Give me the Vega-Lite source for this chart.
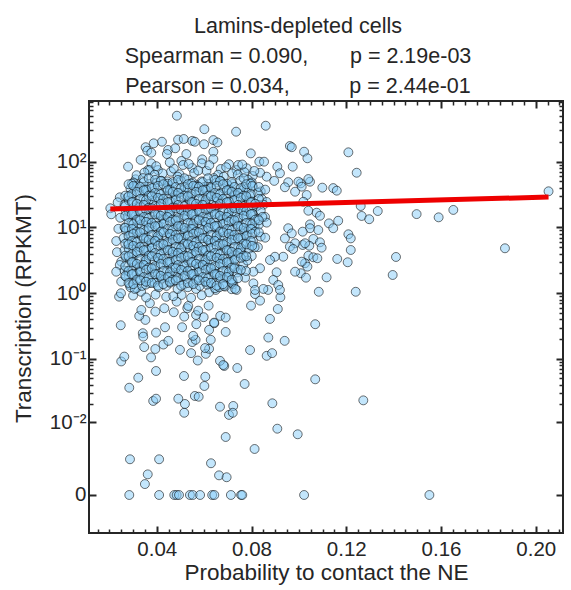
{
"$schema": "https://vega.github.io/schema/vega-lite/v6.json",
"width": 474, "height": 432,
"autosize": {"type": "none"},
"padding": {"left": 89, "top": 101, "right": 8, "bottom": 57},
"background": "white",
"config": {
 "font": "Liberation Sans",
 "view": {"stroke": "#262626", "strokeWidth": 2},
 "axis": {"domain": false, "grid": false, "ticks": true, "tickColor": "#262626", "labelColor": "#262626", "titleColor": "#262626", "labelFont": "Liberation Sans", "titleFont": "Liberation Sans", "labelFontSize": 20.5, "titleFontSize": 22.5, "titleFontWeight": "normal"}
},
"title": {"text": ["Lamins-depleted cells", "Spearman = 0.090,\u00a0\u00a0\u00a0\u00a0\u00a0\u00a0 p = 2.19e-03", "Pearson = 0.034,\u00a0\u00a0\u00a0\u00a0\u00a0\u00a0\u00a0\u00a0\u00a0 p = 2.44e-01"], "fontSize": 21.5, "fontWeight": "normal", "lineHeight": 30, "anchor": "middle", "dx": -28, "offset": 3, "color": "#262626", "font": "Liberation Sans"},
"datasets": {
"fit": [{"x":0.0204,"y":19.0},{"x":0.2054,"y":28.9}],
"genes": [
{"x":0.0284,"y":0},{"x":0.0410,"y":0},{"x":0.0474,"y":0},{"x":0.0484,"y":0},{"x":0.0494,"y":0},{"x":0.0540,"y":0},{"x":0.0552,"y":0},{"x":0.0583,"y":0},{"x":0.0634,"y":0},{"x":0.0643,"y":0},{"x":0.0713,"y":0},{"x":0.0756,"y":0},{"x":0.0761,"y":0},{"x":0.1022,"y":0},{"x":0.1551,"y":0},
{"x":0.0287,"y":0.00214},{"x":0.0410,"y":0.00214},{"x":0.0362,"y":0.00091},{"x":0.0350,"y":0.0004},{"x":0.0629,"y":0.00175},{"x":0.0663,"y":0.00085},{"x":0.0695,"y":0.00074},{"x":0.0691,"y":0.00568},{"x":0.0813,"y":0.00344},{"x":0.0909,"y":0.00788},{"x":0.0995,"y":0.00633},
{"x":0.0888,"y":0.0204},{"x":0.0667,"y":0.018},{"x":0.0723,"y":0.0185},{"x":0.0705,"y":0.0133},{"x":0.0721,"y":0.0144},{"x":0.0516,"y":0.0144},{"x":0.0519,"y":0.0199},{"x":0.0491,"y":0.0241},{"x":0.0385,"y":0.0222},{"x":0.0397,"y":0.0241},{"x":0.0561,"y":0.0266},{"x":0.0577,"y":0.0259},{"x":0.1272,"y":0.0227},
{"x":0.0284,"y":0.0358},{"x":0.0322,"y":0.0512},{"x":0.0397,"y":0.0649},{"x":0.0515,"y":0.0544},{"x":0.0605,"y":0.053},{"x":0.0601,"y":0.0381},{"x":0.0685,"y":0.0775},{"x":0.074,"y":0.0722},{"x":0.0771,"y":0.0409},{"x":0.0667,"y":0.093},{"x":0.0681,"y":0.0802},{"x":0.1069,"y":0.0483},
{"x":0.025,"y":0.091},{"x":0.0263,"y":0.108},{"x":0.0376,"y":0.105},{"x":0.0498,"y":0.137},{"x":0.0545,"y":0.122},{"x":0.0573,"y":0.094},{"x":0.0607,"y":0.119},{"x":0.0621,"y":0.142},{"x":0.0604,"y":0.146},{"x":0.0794,"y":0.136},{"x":0.0864,"y":0.111},{"x":0.0887,"y":0.122},
{"x":0.0347,"y":0.151},{"x":0.0394,"y":0.141},{"x":0.0428,"y":0.165},{"x":0.0449,"y":0.188},{"x":0.055,"y":0.18},{"x":0.0564,"y":0.195},{"x":0.0628,"y":0.195},
{"x":0.0248,"y":0.325},{"x":0.0341,"y":0.246},{"x":0.0343,"y":0.218},{"x":0.0397,"y":0.251},{"x":0.0435,"y":0.303},{"x":0.0507,"y":0.303},{"x":0.0554,"y":0.224},{"x":0.0567,"y":0.337},{"x":0.0621,"y":0.276},{"x":0.0643,"y":0.349},{"x":0.0691,"y":0.257},{"x":0.0871,"y":0.211},{"x":0.094,"y":0.188},{"x":0.1069,"y":0.337},
{"x":0.0878,"y":0.406},{"x":0.0911,"y":0.575},{"x":0.0922,"y":0.867},{"x":0.0798,"y":0.646},{"x":0.0836,"y":0.77},{"x":0.1084,"y":1.05},{"x":0.0668,"y":0.451},{"x":0.0691,"y":0.425},{"x":0.0642,"y":0.356},{"x":0.0619,"y":0.646},{"x":0.0598,"y":0.431},{"x":0.0566,"y":0.466},{"x":0.0516,"y":0.44},{"x":0.0472,"y":0.513},{"x":0.0432,"y":0.59},{"x":0.0352,"y":0.392},{"x":0.0326,"y":0.451},{"x":0.0335,"y":0.556},{"x":0.0394,"y":0.524},{"x":0.0371,"y":0.703},{"x":0.0529,"y":0.59},{"x":0.0575,"y":0.542},{"x":0.0533,"y":0.639},{"x":0.0505,"y":0.94},{"x":0.0484,"y":0.743},{"x":0.0241,"y":0.885},{"x":0.0249,"y":0.996},{"x":0.0334,"y":1.05},{"x":0.087,"y":1.12},{"x":0.0815,"y":0.97},{"x":0.0716,"y":1.15},{"x":0.0649,"y":1.12},{"x":0.0621,"y":1.03},
{"x":0.03,"y":0.92},{"x":0.0355,"y":0.86},{"x":0.0395,"y":0.95},{"x":0.044,"y":0.88},{"x":0.047,"y":0.9},{"x":0.0545,"y":0.85},{"x":0.059,"y":0.93},
{"x":0.1022,"y":141},{"x":0.1036,"y":112},{"x":0.1209,"y":138},{"x":0.1244,"y":67.6},{"x":0.1008,"y":46.7},{"x":0.1047,"y":49.4},{"x":0.1099,"y":40.1},{"x":0.1145,"y":39.5},{"x":0.116,"y":36.1},{"x":0.1033,"y":31.0},{"x":0.1019,"y":24.5},{"x":0.1261,"y":21.1},{"x":0.104,"y":17.9},{"x":0.1075,"y":16.7},{"x":0.1089,"y":15.0},{"x":0.1265,"y":14.9},{"x":0.1297,"y":13.3},{"x":0.1333,"y":17.7},{"x":0.1497,"y":15.9},{"x":0.159,"y":14.2},{"x":0.1652,"y":18.4},{"x":0.2054,"y":35.3},
{"x":0.1127,"y":11.5},{"x":0.1166,"y":12.6},{"x":0.1047,"y":11.1},{"x":0.1047,"y":9.7},{"x":0.1145,"y":9.7},{"x":0.1082,"y":9.1},{"x":0.1016,"y":8.6},{"x":0.1209,"y":7.85},{"x":0.1219,"y":6.8},{"x":0.1061,"y":6.66},{"x":0.1089,"y":5.93},{"x":0.1096,"y":4.91},{"x":0.1016,"y":5.4},{"x":0.1044,"y":5.26},{"x":0.1219,"y":4.53},{"x":0.187,"y":4.81},
{"x":0.104,"y":3.71},{"x":0.1061,"y":3.51},{"x":0.1078,"y":3.39},{"x":0.1162,"y":3.31},{"x":0.1206,"y":2.95},{"x":0.141,"y":3.55},{"x":0.1026,"y":2.85},{"x":0.1036,"y":2.53},{"x":0.1008,"y":2.01},{"x":0.103,"y":1.72},{"x":0.1117,"y":1.74},{"x":0.1396,"y":1.89},{"x":0.124,"y":1.05},
{"x":0.0485,"y":497},{"x":0.0422,"y":200},{"x":0.0387,"y":189},{"x":0.049,"y":215},{"x":0.0514,"y":220},{"x":0.055,"y":206},{"x":0.0353,"y":165},{"x":0.036,"y":146},{"x":0.0377,"y":136},{"x":0.0448,"y":150},{"x":0.0478,"y":159},{"x":0.0443,"y":130},{"x":0.0525,"y":130},{"x":0.0332,"y":106},{"x":0.0279,"y":83.5},{"x":0.0377,"y":94},{"x":0.0405,"y":74.3},{"x":0.0504,"y":102},{"x":0.0511,"y":88.6},{"x":0.0311,"y":53.7},{"x":0.0363,"y":74.3},{"x":0.0244,"y":28.6},
{"x":0.086,"y":350},{"x":0.0735,"y":284},{"x":0.0601,"y":310},{"x":0.06,"y":183},{"x":0.0639,"y":212},{"x":0.0656,"y":195},{"x":0.0639,"y":141},{"x":0.0639,"y":109},{"x":0.0561,"y":200},{"x":0.0962,"y":172},{"x":0.097,"y":165},{"x":0.0797,"y":133},{"x":0.0833,"y":99.5},{"x":0.0853,"y":99.5},{"x":0.0705,"y":91},{"x":0.0737,"y":74.3},{"x":0.078,"y":78.9},{"x":0.0744,"y":88.6},{"x":0.0909,"y":83.5},{"x":0.0974,"y":83.5},{"x":0.0864,"y":58.9},{"x":0.092,"y":66.4},{"x":0.0896,"y":50.8},{"x":0.0955,"y":48.5},{"x":0.0998,"y":49.4},{"x":0.0836,"y":67.6},{"x":0.0805,"y":60.3},{"x":0.0592,"y":108},{"x":0.059,"y":94},{"x":0.0941,"y":40.7},{"x":0.1012,"y":41.5},{"x":0.0984,"y":34.8},{"x":0.104,"y":54.2},
{"x":0.0204,"y":19.5},{"x":0.0208,"y":15.8},{"x":0.0246,"y":14.0},{"x":0.0229,"y":6.2},{"x":0.025,"y":3.01},{"x":0.0244,"y":2.68},{"x":0.0229,"y":2.12},{"x":0.025,"y":1.5},{"x":0.0286,"y":1.33},{"x":0.0314,"y":1.19},{"x":0.0235,"y":24},{"x":0.0238,"y":9.5},{"x":0.0232,"y":4.2},
{"x":0.0955,"y":9.7},{"x":0.097,"y":8.1},{"x":0.0941,"y":6.8},{"x":0.0984,"y":5.73},{"x":0.0962,"y":5.09},{"x":0.0976,"y":4.69},{"x":0.1026,"y":5.73},{"x":0.0934,"y":3.58},{"x":0.0899,"y":3.58},{"x":0.0878,"y":3.19},{"x":0.1012,"y":3.01},{"x":0.0984,"y":2.12},{"x":0.0906,"y":2.08},{"x":0.0892,"y":1.59},{"x":0.0913,"y":1.33},{"x":0.0836,"y":2.39},{"x":0.0808,"y":2.12},{"x":0.0773,"y":1.72},{"x":0.0808,"y":1.41},{"x":0.0815,"y":1.12},{"x":0.085,"y":1.16},{"x":0.092,"y":1.12},{"x":0.0723,"y":1.37},{"x":0.0646,"y":1.19},{"x":0.0688,"y":1.26},{"x":0.0737,"y":1.12},
{"x":0.037,"y":74},{"x":0.046,"y":70},{"x":0.055,"y":80},{"x":0.061,"y":72},{"x":0.067,"y":77},{"x":0.077,"y":69},
{"x":0.0315,"y":62},{"x":0.0348,"y":68},{"x":0.0398,"y":85},{"x":0.0425,"y":66},{"x":0.0472,"y":78},{"x":0.0496,"y":64},{"x":0.0535,"y":92},{"x":0.0558,"y":67},{"x":0.0622,"y":88},{"x":0.0659,"y":63},{"x":0.0693,"y":82},{"x":0.0718,"y":66},{"x":0.0761,"y":90},{"x":0.0812,"y":72},{"x":0.0455,"y":97},{"x":0.0575,"y":73},
{"x":0.0342,"y":56},{"x":0.0391,"y":63},{"x":0.0445,"y":50},{"x":0.0488,"y":59},{"x":0.0532,"y":53},{"x":0.059,"y":50},{"x":0.0641,"y":56},{"x":0.0683,"y":59},{"x":0.0742,"y":63},{"x":0.0785,"y":53},
{"x":0.0302,"y":48},{"x":0.032,"y":43.3},{"x":0.0352,"y":41},{"x":0.0369,"y":45.6},{"x":0.0401,"y":48},{"x":0.042,"y":51},{"x":0.0452,"y":43.3},{"x":0.0469,"y":45.6},{"x":0.0502,"y":51},{"x":0.0519,"y":41},{"x":0.0552,"y":48},{"x":0.057,"y":43.3},{"x":0.0601,"y":41},{"x":0.0619,"y":45.6},{"x":0.0653,"y":48},{"x":0.0669,"y":51},{"x":0.0702,"y":43.3},{"x":0.072,"y":45.6},{"x":0.0752,"y":51},{"x":0.0769,"y":41},{"x":0.0801,"y":48},
{"x":0.0289,"y":38.9},{"x":0.0307,"y":41.4},{"x":0.0338,"y":35.2},{"x":0.0354,"y":37},{"x":0.039,"y":41.4},{"x":0.0408,"y":33.3},{"x":0.0441,"y":38.9},{"x":0.0455,"y":35.2},{"x":0.0488,"y":33.3},{"x":0.0514,"y":37},{"x":0.0531,"y":38.9},{"x":0.0566,"y":41.4},{"x":0.0582,"y":35.2},{"x":0.0613,"y":37},{"x":0.063,"y":41.4},{"x":0.0664,"y":33.3},{"x":0.0683,"y":38.9},{"x":0.0716,"y":35.2},{"x":0.0731,"y":33.3},{"x":0.0765,"y":37},{"x":0.0782,"y":38.9},{"x":0.0806,"y":41.4},{"x":0.0839,"y":35.2},
{"x":0.0277,"y":28.4},{"x":0.0294,"y":29.9},{"x":0.0327,"y":33.5},{"x":0.0344,"y":26.9},{"x":0.0377,"y":31.4},{"x":0.0394,"y":28.4},{"x":0.0427,"y":26.9},{"x":0.0444,"y":29.9},{"x":0.0477,"y":31.4},{"x":0.0494,"y":33.5},{"x":0.0527,"y":28.4},{"x":0.0544,"y":29.9},{"x":0.0577,"y":33.5},{"x":0.0594,"y":26.9},{"x":0.0627,"y":31.4},{"x":0.0644,"y":28.4},{"x":0.0677,"y":26.9},{"x":0.0694,"y":29.9},{"x":0.0727,"y":31.4},{"x":0.0744,"y":33.5},{"x":0.0777,"y":28.4},{"x":0.0794,"y":29.9},{"x":0.0827,"y":33.5},{"x":0.0844,"y":26.9},
{"x":0.0264,"y":21.9},{"x":0.0282,"y":25.5},{"x":0.0315,"y":23.1},{"x":0.0331,"y":21.9},{"x":0.0363,"y":24.3},{"x":0.0381,"y":25.5},{"x":0.0414,"y":27.2},{"x":0.0432,"y":23.1},{"x":0.0464,"y":24.3},{"x":0.048,"y":27.2},{"x":0.0507,"y":21.9},{"x":0.054,"y":25.5},{"x":0.0556,"y":23.1},{"x":0.0589,"y":21.9},{"x":0.0606,"y":24.3},{"x":0.0639,"y":25.5},{"x":0.0656,"y":27.2},{"x":0.069,"y":23.1},{"x":0.0705,"y":24.3},{"x":0.0739,"y":27.2},{"x":0.0757,"y":21.9},{"x":0.0789,"y":25.5},{"x":0.0813,"y":23.1},{"x":0.0831,"y":21.9},{"x":0.0864,"y":24.3},
{"x":0.027,"y":17.7},{"x":0.0302,"y":19.7},{"x":0.032,"y":20.7},{"x":0.0352,"y":22.1},{"x":0.0369,"y":18.7},{"x":0.0401,"y":19.7},{"x":0.042,"y":22.1},{"x":0.0452,"y":17.7},{"x":0.0469,"y":20.7},{"x":0.0502,"y":18.7},{"x":0.0519,"y":17.7},{"x":0.0552,"y":19.7},{"x":0.057,"y":20.7},{"x":0.0601,"y":22.1},{"x":0.0619,"y":18.7},{"x":0.0653,"y":19.7},{"x":0.0669,"y":22.1},{"x":0.0702,"y":17.7},{"x":0.072,"y":20.7},{"x":0.0752,"y":18.7},{"x":0.0769,"y":17.7},{"x":0.0801,"y":19.7},{"x":0.082,"y":20.7},{"x":0.0851,"y":22.1},
{"x":0.0289,"y":15.2},{"x":0.0307,"y":16.0},{"x":0.0338,"y":17.9},{"x":0.0354,"y":14.4},{"x":0.039,"y":16.8},{"x":0.0408,"y":15.2},{"x":0.0441,"y":14.4},{"x":0.0455,"y":16.0},{"x":0.0488,"y":16.8},{"x":0.0514,"y":17.9},{"x":0.0531,"y":15.2},{"x":0.0566,"y":16.0},{"x":0.0582,"y":17.9},{"x":0.0613,"y":14.4},{"x":0.063,"y":16.8},{"x":0.0664,"y":15.2},{"x":0.0683,"y":14.4},{"x":0.0716,"y":16.0},{"x":0.0731,"y":16.8},{"x":0.0765,"y":17.9},{"x":0.0782,"y":15.2},{"x":0.0806,"y":16.0},{"x":0.0839,"y":17.9},{"x":0.0857,"y":14.4},
{"x":0.0277,"y":14.4},{"x":0.0294,"y":11.6},{"x":0.0327,"y":13.5},{"x":0.0344,"y":12.3},{"x":0.0377,"y":11.6},{"x":0.0394,"y":12.9},{"x":0.0427,"y":13.5},{"x":0.0444,"y":14.4},{"x":0.0477,"y":12.3},{"x":0.0494,"y":12.9},{"x":0.0527,"y":14.4},{"x":0.0544,"y":11.6},{"x":0.0577,"y":13.5},{"x":0.0594,"y":12.3},{"x":0.0627,"y":11.6},{"x":0.0644,"y":12.9},{"x":0.0677,"y":13.5},{"x":0.0694,"y":14.4},{"x":0.0727,"y":12.3},{"x":0.0744,"y":12.9},{"x":0.0777,"y":14.4},{"x":0.0794,"y":11.6},{"x":0.0827,"y":13.5},
{"x":0.0264,"y":10.0},{"x":0.0282,"y":9.45},{"x":0.0315,"y":10.5},{"x":0.0331,"y":11.0},{"x":0.0363,"y":11.8},{"x":0.0381,"y":10.0},{"x":0.0414,"y":10.5},{"x":0.0432,"y":11.8},{"x":0.0464,"y":9.45},{"x":0.048,"y":11.0},{"x":0.0507,"y":10.0},{"x":0.054,"y":9.45},{"x":0.0556,"y":10.5},{"x":0.0589,"y":11.0},{"x":0.0606,"y":11.8},{"x":0.0639,"y":10.0},{"x":0.0656,"y":10.5},{"x":0.069,"y":11.8},{"x":0.0705,"y":9.45},{"x":0.0739,"y":11.0},{"x":0.0757,"y":10.0},{"x":0.0789,"y":9.45},{"x":0.0813,"y":10.5},{"x":0.0831,"y":11.0},{"x":0.0864,"y":11.8},
{"x":0.027,"y":8.9},{"x":0.0302,"y":9.5},{"x":0.032,"y":8.1},{"x":0.0352,"y":8.5},{"x":0.0369,"y":9.5},{"x":0.0401,"y":7.65},{"x":0.042,"y":8.9},{"x":0.0452,"y":8.1},{"x":0.0469,"y":7.65},{"x":0.0502,"y":8.5},{"x":0.0519,"y":8.9},{"x":0.0552,"y":9.5},{"x":0.057,"y":8.1},{"x":0.0601,"y":8.5},{"x":0.0619,"y":9.5},{"x":0.0653,"y":7.65},{"x":0.0669,"y":8.9},{"x":0.0702,"y":8.1},{"x":0.072,"y":7.65},{"x":0.0752,"y":8.5},{"x":0.0769,"y":8.9},{"x":0.0801,"y":9.5},
{"x":0.026,"y":6.9},{"x":0.0289,"y":7.7},{"x":0.0307,"y":6.2},{"x":0.0338,"y":7.25},{"x":0.0354,"y":6.55},{"x":0.039,"y":6.2},{"x":0.0408,"y":6.9},{"x":0.0441,"y":7.25},{"x":0.0455,"y":7.7},{"x":0.0488,"y":6.55},{"x":0.0514,"y":6.9},{"x":0.0531,"y":7.7},{"x":0.0566,"y":6.2},{"x":0.0582,"y":7.25},{"x":0.0613,"y":6.55},{"x":0.063,"y":6.2},{"x":0.0664,"y":6.9},{"x":0.0683,"y":7.25},{"x":0.0716,"y":7.7},{"x":0.0731,"y":6.55},{"x":0.0765,"y":6.9},{"x":0.0782,"y":7.7},{"x":0.0806,"y":6.2},{"x":0.0839,"y":7.25},
{"x":0.0277,"y":5.9},{"x":0.0294,"y":5.3},{"x":0.0327,"y":5.0},{"x":0.0344,"y":5.6},{"x":0.0377,"y":5.9},{"x":0.0394,"y":6.3},{"x":0.0427,"y":5.3},{"x":0.0444,"y":5.6},{"x":0.0477,"y":6.3},{"x":0.0494,"y":5.0},{"x":0.0527,"y":5.9},{"x":0.0544,"y":5.3},{"x":0.0577,"y":5.0},{"x":0.0594,"y":5.6},{"x":0.0627,"y":5.9},{"x":0.0644,"y":6.3},{"x":0.0677,"y":5.3},{"x":0.0694,"y":5.6},{"x":0.0727,"y":6.3},{"x":0.0744,"y":5.0},{"x":0.0777,"y":5.9},{"x":0.0794,"y":5.3},{"x":0.0827,"y":5.0},
{"x":0.0264,"y":4.5},{"x":0.0282,"y":4.7},{"x":0.0315,"y":5.0},{"x":0.0331,"y":4.3},{"x":0.0363,"y":4.5},{"x":0.0381,"y":5.0},{"x":0.0414,"y":4.05},{"x":0.0432,"y":4.7},{"x":0.0464,"y":4.3},{"x":0.048,"y":4.05},{"x":0.0507,"y":4.5},{"x":0.054,"y":4.7},{"x":0.0556,"y":5.0},{"x":0.0589,"y":4.3},{"x":0.0606,"y":4.5},{"x":0.0639,"y":5.0},{"x":0.0656,"y":4.05},{"x":0.069,"y":4.7},{"x":0.0705,"y":4.3},{"x":0.0739,"y":4.05},{"x":0.0757,"y":4.5},{"x":0.0789,"y":4.7},{"x":0.0813,"y":5.0},
{"x":0.027,"y":3.5},{"x":0.0302,"y":3.67},{"x":0.032,"y":4.1},{"x":0.0352,"y":3.3},{"x":0.0369,"y":3.85},{"x":0.0401,"y":3.5},{"x":0.042,"y":3.3},{"x":0.0452,"y":3.67},{"x":0.0469,"y":3.85},{"x":0.0502,"y":4.1},{"x":0.0519,"y":3.5},{"x":0.0552,"y":3.67},{"x":0.057,"y":4.1},{"x":0.0601,"y":3.3},{"x":0.0619,"y":3.85},{"x":0.0653,"y":3.5},{"x":0.0669,"y":3.3},{"x":0.0702,"y":3.67},{"x":0.072,"y":3.85},{"x":0.0752,"y":4.1},{"x":0.0769,"y":3.5},{"x":0.0801,"y":3.67},
{"x":0.0289,"y":3.13},{"x":0.0307,"y":2.83},{"x":0.0338,"y":2.68},{"x":0.0354,"y":2.98},{"x":0.039,"y":3.13},{"x":0.0408,"y":3.34},{"x":0.0441,"y":2.83},{"x":0.0455,"y":2.98},{"x":0.0488,"y":3.34},{"x":0.0514,"y":2.68},{"x":0.0531,"y":3.13},{"x":0.0566,"y":2.83},{"x":0.0582,"y":2.68},{"x":0.0613,"y":2.98},{"x":0.063,"y":3.13},{"x":0.0664,"y":3.34},{"x":0.0683,"y":2.83},{"x":0.0716,"y":2.98},{"x":0.0731,"y":3.34},{"x":0.0765,"y":2.68},{"x":0.0782,"y":3.13},
{"x":0.0277,"y":2.17},{"x":0.0294,"y":2.41},{"x":0.0327,"y":2.53},{"x":0.0344,"y":2.7},{"x":0.0377,"y":2.29},{"x":0.0394,"y":2.41},{"x":0.0427,"y":2.7},{"x":0.0444,"y":2.17},{"x":0.0477,"y":2.53},{"x":0.0494,"y":2.29},{"x":0.0527,"y":2.17},{"x":0.0544,"y":2.41},{"x":0.0577,"y":2.53},{"x":0.0594,"y":2.7},{"x":0.0627,"y":2.29},{"x":0.0644,"y":2.41},{"x":0.0677,"y":2.7},{"x":0.0694,"y":2.17},{"x":0.0727,"y":2.53},{"x":0.0744,"y":2.29},{"x":0.0777,"y":2.17},
{"x":0.0264,"y":2.2},{"x":0.0282,"y":1.86},{"x":0.0315,"y":1.96},{"x":0.0331,"y":2.2},{"x":0.0363,"y":1.76},{"x":0.0381,"y":2.06},{"x":0.0414,"y":1.86},{"x":0.0432,"y":1.76},{"x":0.0464,"y":1.96},{"x":0.048,"y":2.06},{"x":0.0507,"y":2.2},{"x":0.054,"y":1.86},{"x":0.0556,"y":1.96},{"x":0.0589,"y":2.2},{"x":0.0606,"y":1.76},{"x":0.0639,"y":2.06},{"x":0.0656,"y":1.86},{"x":0.069,"y":1.76},{"x":0.0705,"y":1.96},{"x":0.0739,"y":2.06},
{"x":0.027,"y":1.78},{"x":0.0302,"y":1.43},{"x":0.032,"y":1.67},{"x":0.0352,"y":1.51},{"x":0.0369,"y":1.43},{"x":0.0401,"y":1.59},{"x":0.042,"y":1.67},{"x":0.0452,"y":1.78},{"x":0.0469,"y":1.51},{"x":0.0502,"y":1.59},{"x":0.0519,"y":1.78},{"x":0.0552,"y":1.43},{"x":0.057,"y":1.67},{"x":0.0601,"y":1.51},{"x":0.0619,"y":1.43},{"x":0.0653,"y":1.59},{"x":0.0669,"y":1.67},{"x":0.0702,"y":1.78},{"x":0.072,"y":1.51},
{"x":0.0289,"y":1.23},{"x":0.0307,"y":1.16},{"x":0.0338,"y":1.29},{"x":0.0354,"y":1.35},{"x":0.039,"y":1.44},{"x":0.0408,"y":1.23},{"x":0.0441,"y":1.29},{"x":0.0455,"y":1.44},{"x":0.0488,"y":1.16},{"x":0.0514,"y":1.35},{"x":0.0531,"y":1.23},{"x":0.0566,"y":1.16},{"x":0.0582,"y":1.29},{"x":0.0613,"y":1.35},{"x":0.063,"y":1.44},{"x":0.0664,"y":1.23},{"x":0.0683,"y":1.29},{"x":0.0716,"y":1.44},{"x":0.0731,"y":1.16},
{"x":0.0295,"y":46.0},{"x":0.0345,"y":48.6},{"x":0.0366,"y":55.7},{"x":0.0393,"y":52.6},{"x":0.0417,"y":50.6},{"x":0.0446,"y":46.0},{"x":0.0467,"y":48.6},{"x":0.049,"y":52.6},{"x":0.0517,"y":55.7},{"x":0.0547,"y":46.0},{"x":0.0594,"y":48.6},{"x":0.0617,"y":55.7},{"x":0.0645,"y":52.6},{"x":0.0667,"y":50.6},{"x":0.0696,"y":46.0},{"x":0.0716,"y":48.6},{"x":0.0767,"y":55.7},{"x":0.0797,"y":46.0},
{"x":0.0281,"y":45.2},{"x":0.0301,"y":42.7},{"x":0.033,"y":41.1},{"x":0.0355,"y":37.4},{"x":0.0379,"y":39.5},{"x":0.0405,"y":42.7},{"x":0.0428,"y":45.2},{"x":0.0456,"y":37.4},{"x":0.048,"y":41.1},{"x":0.0503,"y":39.5},{"x":0.0531,"y":45.2},{"x":0.0554,"y":42.7},{"x":0.0578,"y":41.1},{"x":0.0606,"y":37.4},{"x":0.0629,"y":39.5},{"x":0.0653,"y":42.7},{"x":0.068,"y":45.2},{"x":0.0704,"y":37.4},{"x":0.0728,"y":41.1},{"x":0.0755,"y":39.5},{"x":0.0778,"y":45.2},{"x":0.0803,"y":42.7},{"x":0.0831,"y":41.1},{"x":0.0858,"y":37.4},
{"x":0.0267,"y":30.3},{"x":0.0295,"y":32.0},{"x":0.0316,"y":34.6},{"x":0.0345,"y":36.6},{"x":0.0366,"y":30.3},{"x":0.0393,"y":33.3},{"x":0.0417,"y":32.0},{"x":0.0446,"y":36.6},{"x":0.0467,"y":34.6},{"x":0.049,"y":33.3},{"x":0.0517,"y":30.3},{"x":0.0547,"y":32.0},{"x":0.0566,"y":34.6},{"x":0.0594,"y":36.6},{"x":0.0617,"y":30.3},{"x":0.0645,"y":33.3},{"x":0.0667,"y":32.0},{"x":0.0696,"y":36.6},{"x":0.0716,"y":34.6},{"x":0.0743,"y":33.3},{"x":0.0767,"y":30.3},{"x":0.0797,"y":32.0},
{"x":0.0281,"y":29.7},{"x":0.0301,"y":24.6},{"x":0.033,"y":27.0},{"x":0.0355,"y":25.9},{"x":0.0379,"y":29.7},{"x":0.0405,"y":28.1},{"x":0.0428,"y":27.0},{"x":0.0456,"y":24.6},{"x":0.048,"y":25.9},{"x":0.0503,"y":28.1},{"x":0.0531,"y":29.7},{"x":0.0554,"y":24.6},{"x":0.0578,"y":27.0},{"x":0.0606,"y":25.9},{"x":0.0629,"y":29.7},{"x":0.0653,"y":28.1},{"x":0.068,"y":27.0},{"x":0.0704,"y":24.6},{"x":0.0728,"y":25.9},{"x":0.0755,"y":28.1},{"x":0.0778,"y":29.7},{"x":0.0803,"y":24.6},{"x":0.0831,"y":27.0},
{"x":0.0267,"y":21.0},{"x":0.0295,"y":24.1},{"x":0.0316,"y":22.8},{"x":0.0345,"y":21.9},{"x":0.0366,"y":19.9},{"x":0.0393,"y":21.0},{"x":0.0417,"y":22.8},{"x":0.0446,"y":24.1},{"x":0.0467,"y":19.9},{"x":0.049,"y":21.9},{"x":0.0517,"y":21.0},{"x":0.0547,"y":24.1},{"x":0.0566,"y":22.8},{"x":0.0594,"y":21.9},{"x":0.0617,"y":19.9},{"x":0.0645,"y":21.0},{"x":0.0667,"y":22.8},{"x":0.0696,"y":24.1},{"x":0.0716,"y":19.9},{"x":0.0743,"y":21.9},{"x":0.0767,"y":21.0},{"x":0.0797,"y":24.1},{"x":0.0816,"y":22.8},
{"x":0.0281,"y":17.7},{"x":0.0301,"y":16.1},{"x":0.033,"y":17.0},{"x":0.0355,"y":18.4},{"x":0.0379,"y":19.5},{"x":0.0405,"y":16.1},{"x":0.0428,"y":17.7},{"x":0.0456,"y":17.0},{"x":0.048,"y":19.5},{"x":0.0503,"y":18.4},{"x":0.0531,"y":17.7},{"x":0.0554,"y":16.1},{"x":0.0578,"y":17.0},{"x":0.0606,"y":18.4},{"x":0.0629,"y":19.5},{"x":0.0653,"y":16.1},{"x":0.068,"y":17.7},{"x":0.0704,"y":17.0},{"x":0.0728,"y":19.5},{"x":0.0755,"y":18.4},{"x":0.0778,"y":17.7},{"x":0.0803,"y":16.1},
{"x":0.0267,"y":15.0},{"x":0.0295,"y":15.8},{"x":0.0316,"y":13.1},{"x":0.0345,"y":14.4},{"x":0.0366,"y":13.8},{"x":0.0393,"y":15.8},{"x":0.0417,"y":15.0},{"x":0.0446,"y":14.4},{"x":0.0467,"y":13.1},{"x":0.049,"y":13.8},{"x":0.0517,"y":15.0},{"x":0.0547,"y":15.8},{"x":0.0566,"y":13.1},{"x":0.0594,"y":14.4},{"x":0.0617,"y":13.8},{"x":0.0645,"y":15.8},{"x":0.0667,"y":15.0},{"x":0.0696,"y":14.4},{"x":0.0716,"y":13.1},{"x":0.0743,"y":13.8},{"x":0.0767,"y":15.0},{"x":0.0797,"y":15.8},{"x":0.0816,"y":13.1},{"x":0.0846,"y":14.4},
{"x":0.0281,"y":11.65},{"x":0.0301,"y":11.2},{"x":0.033,"y":12.8},{"x":0.0355,"y":12.1},{"x":0.0379,"y":11.65},{"x":0.0405,"y":10.6},{"x":0.0428,"y":11.2},{"x":0.0456,"y":12.1},{"x":0.048,"y":12.8},{"x":0.0503,"y":10.6},{"x":0.0531,"y":11.65},{"x":0.0554,"y":11.2},{"x":0.0578,"y":12.8},{"x":0.0606,"y":12.1},{"x":0.0629,"y":11.65},{"x":0.0653,"y":10.6},{"x":0.068,"y":11.2},{"x":0.0704,"y":12.1},{"x":0.0728,"y":12.8},{"x":0.0755,"y":10.6},{"x":0.0778,"y":11.65},{"x":0.0803,"y":11.2},{"x":0.0831,"y":12.8},
{"x":0.0267,"y":9.8},{"x":0.0295,"y":9.45},{"x":0.0316,"y":8.6},{"x":0.0345,"y":9.07},{"x":0.0366,"y":9.8},{"x":0.0393,"y":10.4},{"x":0.0417,"y":8.6},{"x":0.0446,"y":9.45},{"x":0.0467,"y":9.07},{"x":0.049,"y":10.4},{"x":0.0517,"y":9.8},{"x":0.0547,"y":9.45},{"x":0.0566,"y":8.6},{"x":0.0594,"y":9.07},{"x":0.0617,"y":9.8},{"x":0.0645,"y":10.4},{"x":0.0667,"y":8.6},{"x":0.0696,"y":9.45},{"x":0.0716,"y":9.07},{"x":0.0743,"y":10.4},{"x":0.0767,"y":9.8},{"x":0.0797,"y":9.45},{"x":0.0816,"y":8.6},
{"x":0.0281,"y":7.35},{"x":0.0301,"y":7.97},{"x":0.033,"y":8.4},{"x":0.0355,"y":6.97},{"x":0.0379,"y":7.66},{"x":0.0405,"y":7.35},{"x":0.0428,"y":8.4},{"x":0.0456,"y":7.97},{"x":0.048,"y":7.66},{"x":0.0503,"y":6.97},{"x":0.0531,"y":7.35},{"x":0.0554,"y":7.97},{"x":0.0578,"y":8.4},{"x":0.0606,"y":6.97},{"x":0.0629,"y":7.66},{"x":0.0653,"y":7.35},{"x":0.068,"y":8.4},{"x":0.0704,"y":7.97},{"x":0.0728,"y":7.66},{"x":0.0755,"y":6.97},{"x":0.0778,"y":7.35},{"x":0.0803,"y":7.97},{"x":0.0831,"y":8.4},{"x":0.0858,"y":6.97},
{"x":0.0267,"y":5.65},{"x":0.0295,"y":6.21},{"x":0.0316,"y":5.96},{"x":0.0345,"y":6.83},{"x":0.0366,"y":6.46},{"x":0.0393,"y":6.21},{"x":0.0417,"y":5.65},{"x":0.0446,"y":5.96},{"x":0.0467,"y":6.46},{"x":0.049,"y":6.83},{"x":0.0517,"y":5.65},{"x":0.0547,"y":6.21},{"x":0.0566,"y":5.96},{"x":0.0594,"y":6.83},{"x":0.0617,"y":6.46},{"x":0.0645,"y":6.21},{"x":0.0667,"y":5.65},{"x":0.0696,"y":5.96},{"x":0.0716,"y":6.46},{"x":0.0743,"y":6.83},{"x":0.0767,"y":5.65},{"x":0.0797,"y":6.21},
{"x":0.0281,"y":5.53},{"x":0.0301,"y":5.23},{"x":0.033,"y":5.03},{"x":0.0355,"y":4.58},{"x":0.0379,"y":4.83},{"x":0.0405,"y":5.23},{"x":0.0428,"y":5.53},{"x":0.0456,"y":4.58},{"x":0.048,"y":5.03},{"x":0.0503,"y":4.83},{"x":0.0531,"y":5.53},{"x":0.0554,"y":5.23},{"x":0.0578,"y":5.03},{"x":0.0606,"y":4.58},{"x":0.0629,"y":4.83},{"x":0.0653,"y":5.23},{"x":0.068,"y":5.53},{"x":0.0704,"y":4.58},{"x":0.0728,"y":5.03},{"x":0.0755,"y":4.83},{"x":0.0778,"y":5.53},{"x":0.0803,"y":5.23},
{"x":0.0267,"y":3.71},{"x":0.0295,"y":3.92},{"x":0.0316,"y":4.24},{"x":0.0345,"y":4.49},{"x":0.0366,"y":3.71},{"x":0.0393,"y":4.08},{"x":0.0417,"y":3.92},{"x":0.0446,"y":4.49},{"x":0.0467,"y":4.24},{"x":0.049,"y":4.08},{"x":0.0517,"y":3.71},{"x":0.0547,"y":3.92},{"x":0.0566,"y":4.24},{"x":0.0594,"y":4.49},{"x":0.0617,"y":3.71},{"x":0.0645,"y":4.08},{"x":0.0667,"y":3.92},{"x":0.0696,"y":4.49},{"x":0.0716,"y":4.24},{"x":0.0743,"y":4.08},{"x":0.0767,"y":3.71},
{"x":0.0281,"y":3.64},{"x":0.0301,"y":3.01},{"x":0.033,"y":3.31},{"x":0.0355,"y":3.18},{"x":0.0379,"y":3.64},{"x":0.0405,"y":3.44},{"x":0.0428,"y":3.31},{"x":0.0456,"y":3.01},{"x":0.048,"y":3.18},{"x":0.0503,"y":3.44},{"x":0.0531,"y":3.64},{"x":0.0554,"y":3.01},{"x":0.0578,"y":3.31},{"x":0.0606,"y":3.18},{"x":0.0629,"y":3.64},{"x":0.0653,"y":3.44},{"x":0.068,"y":3.31},{"x":0.0704,"y":3.01},{"x":0.0728,"y":3.18},{"x":0.0755,"y":3.44},{"x":0.0778,"y":3.64},
{"x":0.0267,"y":2.57},{"x":0.0295,"y":2.95},{"x":0.0316,"y":2.79},{"x":0.0345,"y":2.68},{"x":0.0366,"y":2.44},{"x":0.0393,"y":2.57},{"x":0.0417,"y":2.79},{"x":0.0446,"y":2.95},{"x":0.0467,"y":2.44},{"x":0.049,"y":2.68},{"x":0.0517,"y":2.57},{"x":0.0547,"y":2.95},{"x":0.0566,"y":2.79},{"x":0.0594,"y":2.68},{"x":0.0617,"y":2.44},{"x":0.0645,"y":2.57},{"x":0.0667,"y":2.79},{"x":0.0696,"y":2.95},{"x":0.0716,"y":2.44},
{"x":0.0281,"y":2.17},{"x":0.0301,"y":1.97},{"x":0.033,"y":2.08},{"x":0.0355,"y":2.26},{"x":0.0379,"y":2.39},{"x":0.0405,"y":1.97},{"x":0.0428,"y":2.17},{"x":0.0456,"y":2.08},{"x":0.048,"y":2.39},{"x":0.0503,"y":2.26},{"x":0.0531,"y":2.17},{"x":0.0554,"y":1.97},{"x":0.0578,"y":2.08},{"x":0.0606,"y":2.26},{"x":0.0629,"y":2.39},{"x":0.0653,"y":1.97},{"x":0.068,"y":2.17},{"x":0.0704,"y":2.08},{"x":0.0728,"y":2.39},{"x":0.0755,"y":2.26},
{"x":0.0267,"y":1.83},{"x":0.0295,"y":1.94},{"x":0.0316,"y":1.6},{"x":0.0345,"y":1.76},{"x":0.0366,"y":1.69},{"x":0.0393,"y":1.94},{"x":0.0417,"y":1.83},{"x":0.0446,"y":1.76},{"x":0.0467,"y":1.6},{"x":0.049,"y":1.69},{"x":0.0517,"y":1.83},{"x":0.0547,"y":1.94},{"x":0.0566,"y":1.6},{"x":0.0594,"y":1.76},{"x":0.0617,"y":1.69},{"x":0.0645,"y":1.94},{"x":0.0667,"y":1.83},{"x":0.0696,"y":1.76},{"x":0.0716,"y":1.6},{"x":0.0743,"y":1.69},
{"x":0.0281,"y":1.43},{"x":0.0301,"y":1.37},{"x":0.033,"y":1.57},{"x":0.0355,"y":1.49},{"x":0.0379,"y":1.43},{"x":0.0405,"y":1.3},{"x":0.0428,"y":1.37},{"x":0.0456,"y":1.49},{"x":0.048,"y":1.57},{"x":0.0503,"y":1.3},{"x":0.0531,"y":1.43},{"x":0.0554,"y":1.37},{"x":0.0578,"y":1.57},{"x":0.0606,"y":1.49},{"x":0.0629,"y":1.43},{"x":0.0653,"y":1.3},{"x":0.068,"y":1.37}
]
},
"layer": [
{"data": {"name": "genes"},
 "mark": {"type": "circle", "size": 80, "fill": "#87CEFA", "fillOpacity": 0.5, "stroke": "#000000", "strokeOpacity": 0.55, "strokeWidth": 1},
 "encoding": {
  "x": {"field": "x", "type": "quantitative", "scale": {"domain": [0.0114, 0.2115], "nice": false, "zero": false},
        "axis": {"orient": "bottom", "values": [0.04, 0.08, 0.12, 0.16, 0.2], "format": ".2f", "offset": -7, "tickSize": 7, "tickWidth": 2, "tickColor": "#262626", "labelPadding": 6, "title": "Probability to contact the NE", "titlePadding": 2, "zindex": 1}},
  "y": {"field": "y", "type": "quantitative", "scale": {"type": "symlog", "constant": 0.00086, "domain": [-0.00239, 831], "nice": false, "zero": false},
        "axis": {"orient": "left", "values": [0, 0.01, 0.1, 1, 10, 100], "labelExpr": "datum.value == 0 ? '0' : datum.value < 0.05 ? '10\u207b\u00b2' : datum.value < 0.5 ? '10\u207b\u00b9' : datum.value < 5 ? '10\u2070' : datum.value < 50 ? '10\u00b9' : '10\u00b2'", "offset": -7, "tickSize": 7, "tickWidth": 2, "tickColor": "#262626", "labelPadding": 3, "title": "Transcription (RPKMT)", "titlePadding": 14, "titleY": 207, "zindex": 1}}
 }},
{"data": {"name": "fit"},
 "mark": {"type": "line", "stroke": "#ee0000", "strokeWidth": 5},
 "encoding": {
  "x": {"field": "x", "type": "quantitative", "scale": {"domain": [0.0114, 0.2115], "nice": false, "zero": false},
        "axis": {"orient": "top", "values": [0.04, 0.08, 0.12, 0.16, 0.2], "labels": false, "offset": -7, "tickSize": 7, "tickColor": "#262626", "tickWidth": 2, "title": null, "zindex": 1}},
  "y": {"field": "y", "type": "quantitative", "scale": {"type": "symlog", "constant": 0.00086, "domain": [-0.00239, 831], "nice": false, "zero": false},
        "axis": {"orient": "right", "values": [0, 0.01, 0.1, 1, 10, 100], "labels": false, "offset": -7, "tickSize": 7, "tickColor": "#262626", "tickWidth": 2, "title": null, "zindex": 1}}
 }},
{"data": {"name": "fit"},
 "mark": {"type": "line", "opacity": 0},
 "encoding": {
  "x": {"field": "x", "type": "quantitative", "scale": {"domain": [0.0114, 0.2115], "nice": false, "zero": false},
        "axis": {"orient": "bottom", "values": [0.015,0.02,0.025,0.03,0.035,0.045,0.05,0.055,0.06,0.065,0.07,0.075,0.085,0.09,0.095,0.1,0.105,0.11,0.115,0.125,0.13,0.135,0.14,0.145,0.15,0.155,0.165,0.17,0.175,0.18,0.185,0.19,0.195,0.205,0.21], "labels": false, "offset": -4, "tickSize": 4, "tickColor": "#262626", "tickWidth": 1.5, "title": null, "zindex": 1}},
  "y": {"field": "y", "type": "quantitative", "scale": {"type": "symlog", "constant": 0.00086, "domain": [-0.00239, 831], "nice": false, "zero": false},
        "axis": {"orient": "left", "values": [0.02,0.03,0.04,0.05,0.06,0.07,0.08,0.09,0.2,0.3,0.4,0.5,0.6,0.7,0.8,0.9,2,3,4,5,6,7,8,9,20,30,40,50,60,70,80,90,200,300,400,500,600,700,800], "labels": false, "offset": -4, "tickSize": 4, "tickColor": "#262626", "tickWidth": 1.5, "title": null, "zindex": 1}}
 }},
{"data": {"name": "fit"},
 "mark": {"type": "line", "opacity": 0},
 "encoding": {
  "x": {"field": "x", "type": "quantitative", "scale": {"domain": [0.0114, 0.2115], "nice": false, "zero": false},
        "axis": {"orient": "top", "values": [0.015,0.02,0.025,0.03,0.035,0.045,0.05,0.055,0.06,0.065,0.07,0.075,0.085,0.09,0.095,0.1,0.105,0.11,0.115,0.125,0.13,0.135,0.14,0.145,0.15,0.155,0.165,0.17,0.175,0.18,0.185,0.19,0.195,0.205,0.21], "labels": false, "offset": -4, "tickSize": 4, "tickColor": "#262626", "tickWidth": 1.5, "title": null, "zindex": 1}},
  "y": {"field": "y", "type": "quantitative", "scale": {"type": "symlog", "constant": 0.00086, "domain": [-0.00239, 831], "nice": false, "zero": false},
        "axis": {"orient": "right", "values": [0.02,0.03,0.04,0.05,0.06,0.07,0.08,0.09,0.2,0.3,0.4,0.5,0.6,0.7,0.8,0.9,2,3,4,5,6,7,8,9,20,30,40,50,60,70,80,90,200,300,400,500,600,700,800], "labels": false, "offset": -4, "tickSize": 4, "tickColor": "#262626", "tickWidth": 1.5, "title": null, "zindex": 1}}
 }}
],
"resolve": {"axis": {"x": "independent", "y": "independent"}}
}
